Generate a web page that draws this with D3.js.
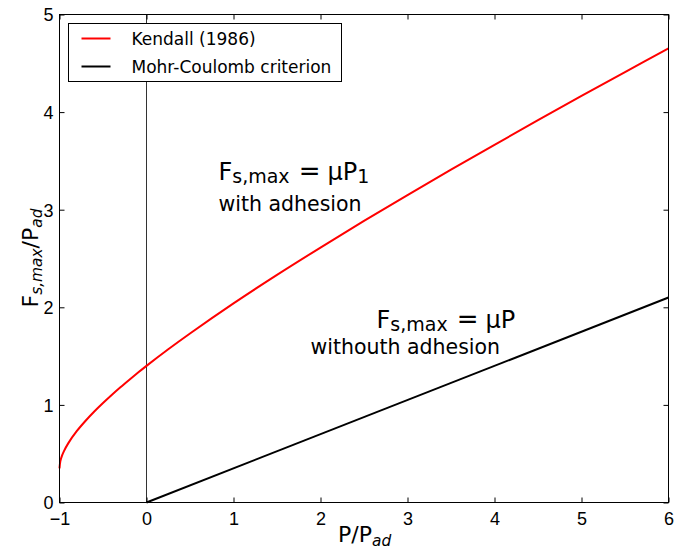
<!DOCTYPE html>
<html>
<head>
<meta charset="utf-8">
<script src="https://cdn.jsdelivr.net/npm/d3@7"></script>
<style>
  body { margin: 0; background: #fff; }
  svg { display: block; font-family: "DejaVu Sans", sans-serif; }
  .tick text { font-size: 18px; fill: #000; }
</style>
</head>
<body>
<svg id="chart" width="675" height="550"></svg>
<script>
// P/Pad values and the friction curves read for them
var kendallP = [-1, -0.99, -0.97, -0.95, -0.9, -0.8, -0.7, -0.6, -0.5, -0.4, -0.3, -0.2, -0.1, 0, 0.25, 0.5, 1, 1.5, 2, 2.5, 3, 3.5, 4, 4.5, 5, 5.5, 6];
var kendallF = [0.350, 0.424, 0.482, 0.524, 0.606, 0.733, 0.838, 0.933, 1.020, 1.102, 1.181, 1.256, 1.329, 1.400, 1.570, 1.732, 2.040, 2.332, 2.612, 2.885, 3.150, 3.410, 3.665, 3.917, 4.165, 4.410, 4.652];
var mohrP = [0, 6];
var mohrF = [0, 2.1];
var xTicks = [-1, 0, 1, 2, 3, 4, 5, 6];
var yTicks = [0, 1, 2, 3, 4, 5];
var seriesNames = ["Kendall (1986)", "Mohr-Coulomb criterion"];
var seriesColors = ["#ff0000", "#000000"];

var svg = d3.select("#chart");
// plot box (window.top is read-only, so no bare "top" here)
var pl = 59, pr = 668, pt = 14, pb = 502;

var x = d3.scaleLinear().domain([-1, 6]).range([pl, pr]);
var y = d3.scaleLinear().domain([0, 5]).range([pb, pt]);

var g = svg.append("g").attr("transform", "translate(0.5,0.5)");

// reference line at P = 0
g.append("line")
  .attr("x1", x(0)).attr("x2", x(0))
  .attr("y1", y(0)).attr("y2", y(5))
  .attr("stroke", "#333").attr("stroke-width", 1);

var line = d3.line()
  .x(function(d) { return x(d[0]); })
  .y(function(d) { return y(d[1]); })
  .curve(d3.curveCatmullRom.alpha(0.5));

var kendall = kendallP.map(function(p, i) { return [p, kendallF[i]]; });
var mohr = mohrP.map(function(p, i) { return [p, mohrF[i]]; });

g.append("path").datum(mohr)
  .attr("d", line).attr("fill", "none")
  .attr("stroke", seriesColors[1]).attr("stroke-width", 2);

g.append("path").datum(kendall)
  .attr("d", line).attr("fill", "none")
  .attr("stroke", seriesColors[0]).attr("stroke-width", 2);

// frame with inward ticks on all four sides
g.append("rect")
  .attr("x", pl).attr("y", pt)
  .attr("width", pr - pl).attr("height", pb - pt)
  .attr("fill", "none").attr("stroke", "#000").attr("stroke-width", 1);

var fmt = function(d) { return d < 0 ? "\u2212" + Math.abs(d) : "" + d; };

var xAxis = g.append("g")
  .attr("transform", "translate(0," + pb + ")")
  .call(d3.axisBottom(x).tickValues(xTicks).tickFormat(fmt).tickSizeInner(-5).tickSizeOuter(0).tickPadding(8));
var yAxis = g.append("g")
  .attr("transform", "translate(" + pl + ",0)")
  .call(d3.axisLeft(y).tickValues(yTicks).tickFormat(fmt).tickSizeInner(-5).tickSizeOuter(0).tickPadding(6));
g.append("g")
  .attr("transform", "translate(0," + pt + ")")
  .call(d3.axisTop(x).tickValues(xTicks).tickFormat("").tickSizeInner(-5).tickSizeOuter(0));
g.append("g")
  .attr("transform", "translate(" + pr + ",0)")
  .call(d3.axisRight(y).tickValues(yTicks).tickFormat("").tickSizeInner(-5).tickSizeOuter(0));

g.selectAll(".domain").remove();
g.selectAll(".tick line").attr("stroke", "#000");
xAxis.selectAll(".tick text").attr("dy", "0.8em");
yAxis.selectAll(".tick text").attr("dy", "0.36em");

// axis labels
var xl = svg.append("text")
  .attr("x", 338).attr("y", 542)
  .attr("font-size", 22);
xl.append("tspan").text("P/P");
xl.append("tspan").text("ad").attr("font-size", 15.4).attr("font-style", "italic").attr("dy", 3.5);

var yl = svg.append("text")
  .attr("transform", "translate(38,258) rotate(-90)")
  .attr("text-anchor", "middle")
  .attr("font-size", 22);
yl.append("tspan").text("F");
yl.append("tspan").text("s,max").attr("font-size", 15.4).attr("font-style", "italic").attr("dy", 4);
yl.append("tspan").text("/P").attr("dy", -4);
yl.append("tspan").text("ad").attr("font-size", 15.4).attr("font-style", "italic").attr("dy", 4);

// formula annotations
function formula(px, py, last) {
  var t = svg.append("text").attr("x", x(px)).attr("y", y(py)).attr("font-size", 24);
  t.append("tspan").text("F");
  t.append("tspan").text("s,max").attr("font-size", 19).attr("dy", 3);
  t.append("tspan").text("=").attr("font-size", 26).attr("dy", -3).attr("dx", 9);
  t.append("tspan").text("\u03bcP").attr("dx", 7);
  if (last) t.append("tspan").text(last).attr("font-size", 19).attr("dy", 3);
}
formula(0.833, 3.30, "1");
formula(2.65, 1.786, null);

svg.append("text").attr("x", x(0.833)).attr("y", y(2.984))
  .attr("font-size", 20.5).text("with adhesion");
svg.append("text").attr("x", x(1.89)).attr("y", y(1.52))
  .attr("font-size", 20.5).text("withouth adhesion");

// legend
var lg = svg.append("g").attr("transform", "translate(68.5,23.5)");
lg.append("rect").attr("width", 273).attr("height", 58)
  .attr("fill", "#fff").attr("stroke", "#000").attr("stroke-width", 1);
seriesNames.forEach(function(name, i) {
  var ry = 15 + i * 28;
  lg.append("line").attr("x1", 13).attr("x2", 42).attr("y1", ry).attr("y2", ry)
    .attr("stroke", seriesColors[i]).attr("stroke-width", 2);
  lg.append("text").attr("x", 63).attr("y", ry + 6)
    .attr("font-size", 17).text(name);
});
</script>
</body>
</html>
